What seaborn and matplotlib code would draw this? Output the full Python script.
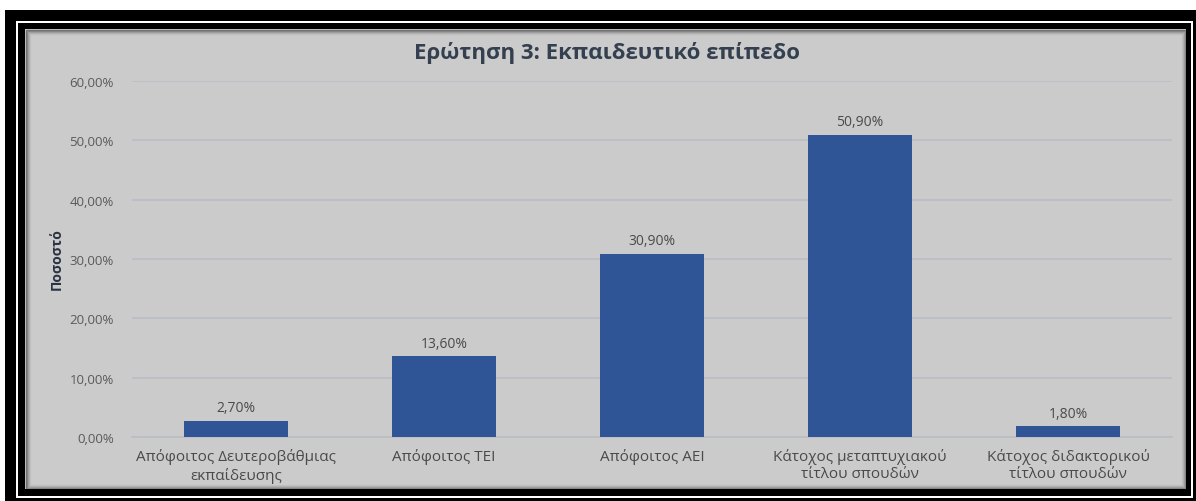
import matplotlib
matplotlib.use("Agg")
import matplotlib.pyplot as plt
from matplotlib.patches import Rectangle
from matplotlib.ticker import FuncFormatter, MultipleLocator
import pandas as pd
import seaborn as sns

categories = [
    "Απόφοιτος Δευτεροβάθμιας\nεκπαίδευσης",
    "Απόφοιτος ΤΕΙ",
    "Απόφοιτος ΑΕΙ",
    "Κάτοχος μεταπτυχιακού\nτίτλου σπουδών",
    "Κάτοχος διδακτορικού\nτίτλου σπουδών",
]
percentages = [2.70, 13.60, 30.90, 50.90, 1.80]
title = "Ερώτηση 3: Εκπαιδευτικό επίπεδο"
y_label = "Ποσοστό"

sns.set_theme(style="white")
plt.rcParams["font.family"] = ["Open Sans", "DejaVu Sans"]

W, H = 1196, 502
fig = plt.figure(figsize=(W / 100, H / 100), dpi=100)
fig.patch.set_facecolor("white")


def frame_rect(x0, y0, x1, y1, face="none", edge="none", lw=0.0, alpha=1.0):
    """Rectangle given in pixel coordinates measured from the top-left."""
    fig.patches.append(Rectangle((x0 / W, 1 - y1 / H), (x1 - x0) / W, (y1 - y0) / H,
                                 transform=fig.transFigure, facecolor=face,
                                 edgecolor=edge, linewidth=lw, alpha=alpha,
                                 zorder=-10))


# double black frame around the chart
frame_rect(5, 11, 1196, 502, face="black")
frame_rect(16, 22, 1193, 499, face="white")
frame_rect(18, 24, 1191, 497, face="black")
frame_rect(25, 30, 1186, 490, face="#cbcbcb")
# soft inner shadow along the frame
for i, a in enumerate([0.40, 0.26, 0.16, 0.09, 0.04]):
    frame_rect(25.5 + i, 30.5 + i, 1185.5 - i, 489.5 - i, edge="black", lw=1.0, alpha=a)

ax = fig.add_axes([132 / W, 1 - 438 / H, 1040 / W, 356 / H])
ax.set_facecolor("none")

df = pd.DataFrame({"category": categories, "value": percentages})
sns.barplot(data=df, x="category", y="value", color="#2f5597", width=0.5,
            saturation=1, linewidth=0, ax=ax, zorder=3)

ax.set_xlim(-0.5, len(categories) - 0.5)
ax.set_ylim(0, 60)
ax.yaxis.set_major_locator(MultipleLocator(10))
ax.yaxis.set_major_formatter(FuncFormatter(lambda v, _: f"{v:.2f}%".replace(".", ",")))
ax.grid(axis="y", color="#b9bec6", linewidth=1.2, zorder=0)
ax.set_axisbelow(True)
for s in ["top", "right", "left"]:
    ax.spines[s].set_visible(False)
ax.spines["bottom"].set_color("#b9bec6")
ax.spines["bottom"].set_linewidth(1.2)

ax.tick_params(axis="y", length=0, pad=13, labelsize=9.5, labelcolor="#5a5a5a")
ax.tick_params(axis="x", length=0, pad=8, labelsize=11, labelcolor="#4a4a4a")
ax.set_xlabel("")
ax.set_ylabel(y_label, fontsize=10, fontweight="bold", color="#2a3342",
              fontstretch="condensed")
ax.yaxis.set_label_coords((64 - 132) / 1040, 0.503)

for cont in ax.containers:
    labels = [f"{v:.2f}%".replace(".", ",") for v in cont.datavalues]
    ax.bar_label(cont, labels=labels, padding=4, fontsize=10, color="#4a4a4a")

fig.text(607 / W, 1 - 53 / H, title, ha="center", va="center", fontsize=16,
         fontweight="bold", color="#343f4f")

fig.savefig("out.png", dpi=100, facecolor=fig.get_facecolor())
